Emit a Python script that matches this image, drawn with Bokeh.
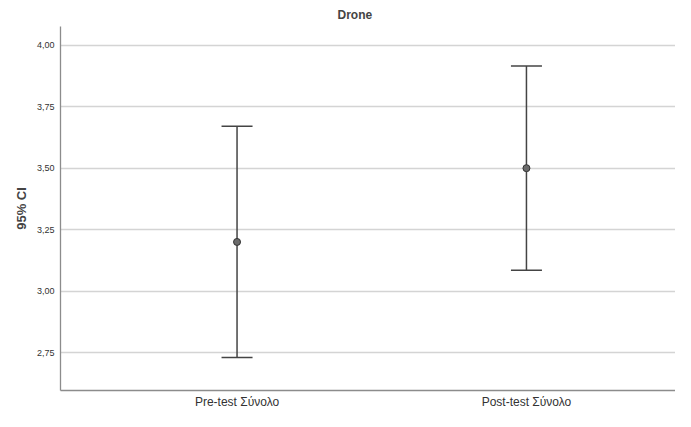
from bokeh.plotting import figure
from bokeh.models import ColumnDataSource, Whisker, TeeHead, Range1d, FixedTicker
from bokeh.embed import file_html
from bokeh.resources import INLINE

categories = ["Pre-test Σύνολο", "Post-test Σύνολο"]
means = [3.20, 3.50]
lower = [2.73, 3.085]
upper = [3.67, 3.915]
y_ticks = [2.75, 3.00, 3.25, 3.50, 3.75, 4.00]
y_tick_labels = ["2,75", "3,00", "3,25", "3,50", "3,75", "4,00"]

xpos = [i + 1 for i in range(len(categories))]
src = ColumnDataSource(dict(x=xpos, mean=means, lower=lower, upper=upper))

p = figure(width=675, height=411, output_backend="svg", toolbar_location=None,
           x_range=Range1d(0.39, 2.515), y_range=Range1d(2.596, 4.076),
           min_border=0, min_border_left=60, min_border_right=0, min_border_bottom=0, min_border_top=9)

p.title.text = "Drone"
p.title.align = "left"
p.title.text_font = "Liberation Sans"
p.title.text_font_size = "12px"
p.title.text_font_style = "bold"
p.title.offset = 277

p.outline_line_color = None
p.background_fill_color = "white"

p.xgrid.grid_line_color = None
p.ygrid.grid_line_color = "#d4d4d4"
p.ygrid.grid_line_width = 1.3

p.yaxis.ticker = FixedTicker(ticks=y_ticks)
p.yaxis.major_label_overrides = {t: l for t, l in zip(y_ticks, y_tick_labels)}
p.yaxis.major_label_text_font = "Liberation Sans"
p.yaxis.major_label_text_font_size = "9px"
p.yaxis.major_label_text_color = "#333333"
p.yaxis.major_label_standoff = 6
p.yaxis.axis_label = "95% CI"
p.yaxis.axis_label_text_font = "Liberation Sans"
p.yaxis.axis_label_text_font_size = "13px"
p.yaxis.axis_label_text_font_style = "bold"
p.yaxis.axis_label_standoff = 5

p.xaxis.ticker = FixedTicker(ticks=xpos)
p.xaxis.major_label_overrides = {x: c for x, c in zip(xpos, categories)}
p.xaxis.major_label_text_font = "Liberation Sans"
p.xaxis.major_label_text_font_size = "12px"
p.xaxis.major_label_text_color = "#333333"
p.xaxis.major_label_text_line_height = 1.0
p.xaxis.major_label_standoff = 4
p.xaxis.axis_label = None

for ax in (p.xaxis[0], p.yaxis[0]):
    ax.axis_line_color = "#8c8c8c"
    ax.axis_line_width = 1.3
    ax.major_tick_line_color = None
    ax.minor_tick_line_color = None
    ax.major_tick_out = 0
    ax.major_tick_in = 0

w = Whisker(base="x", upper="upper", lower="lower", source=src, dimension="height",
            line_color="#444444", line_width=1.5,
            upper_head=TeeHead(size=31, line_color="#444444", line_width=1.5),
            lower_head=TeeHead(size=31, line_color="#444444", line_width=1.5))
p.add_layout(w)

p.scatter("x", "mean", source=src, size=7, fill_color="#6b6b6b", line_color="#333333", line_width=1)

open("out.html", "w").write(file_html(p, INLINE))
